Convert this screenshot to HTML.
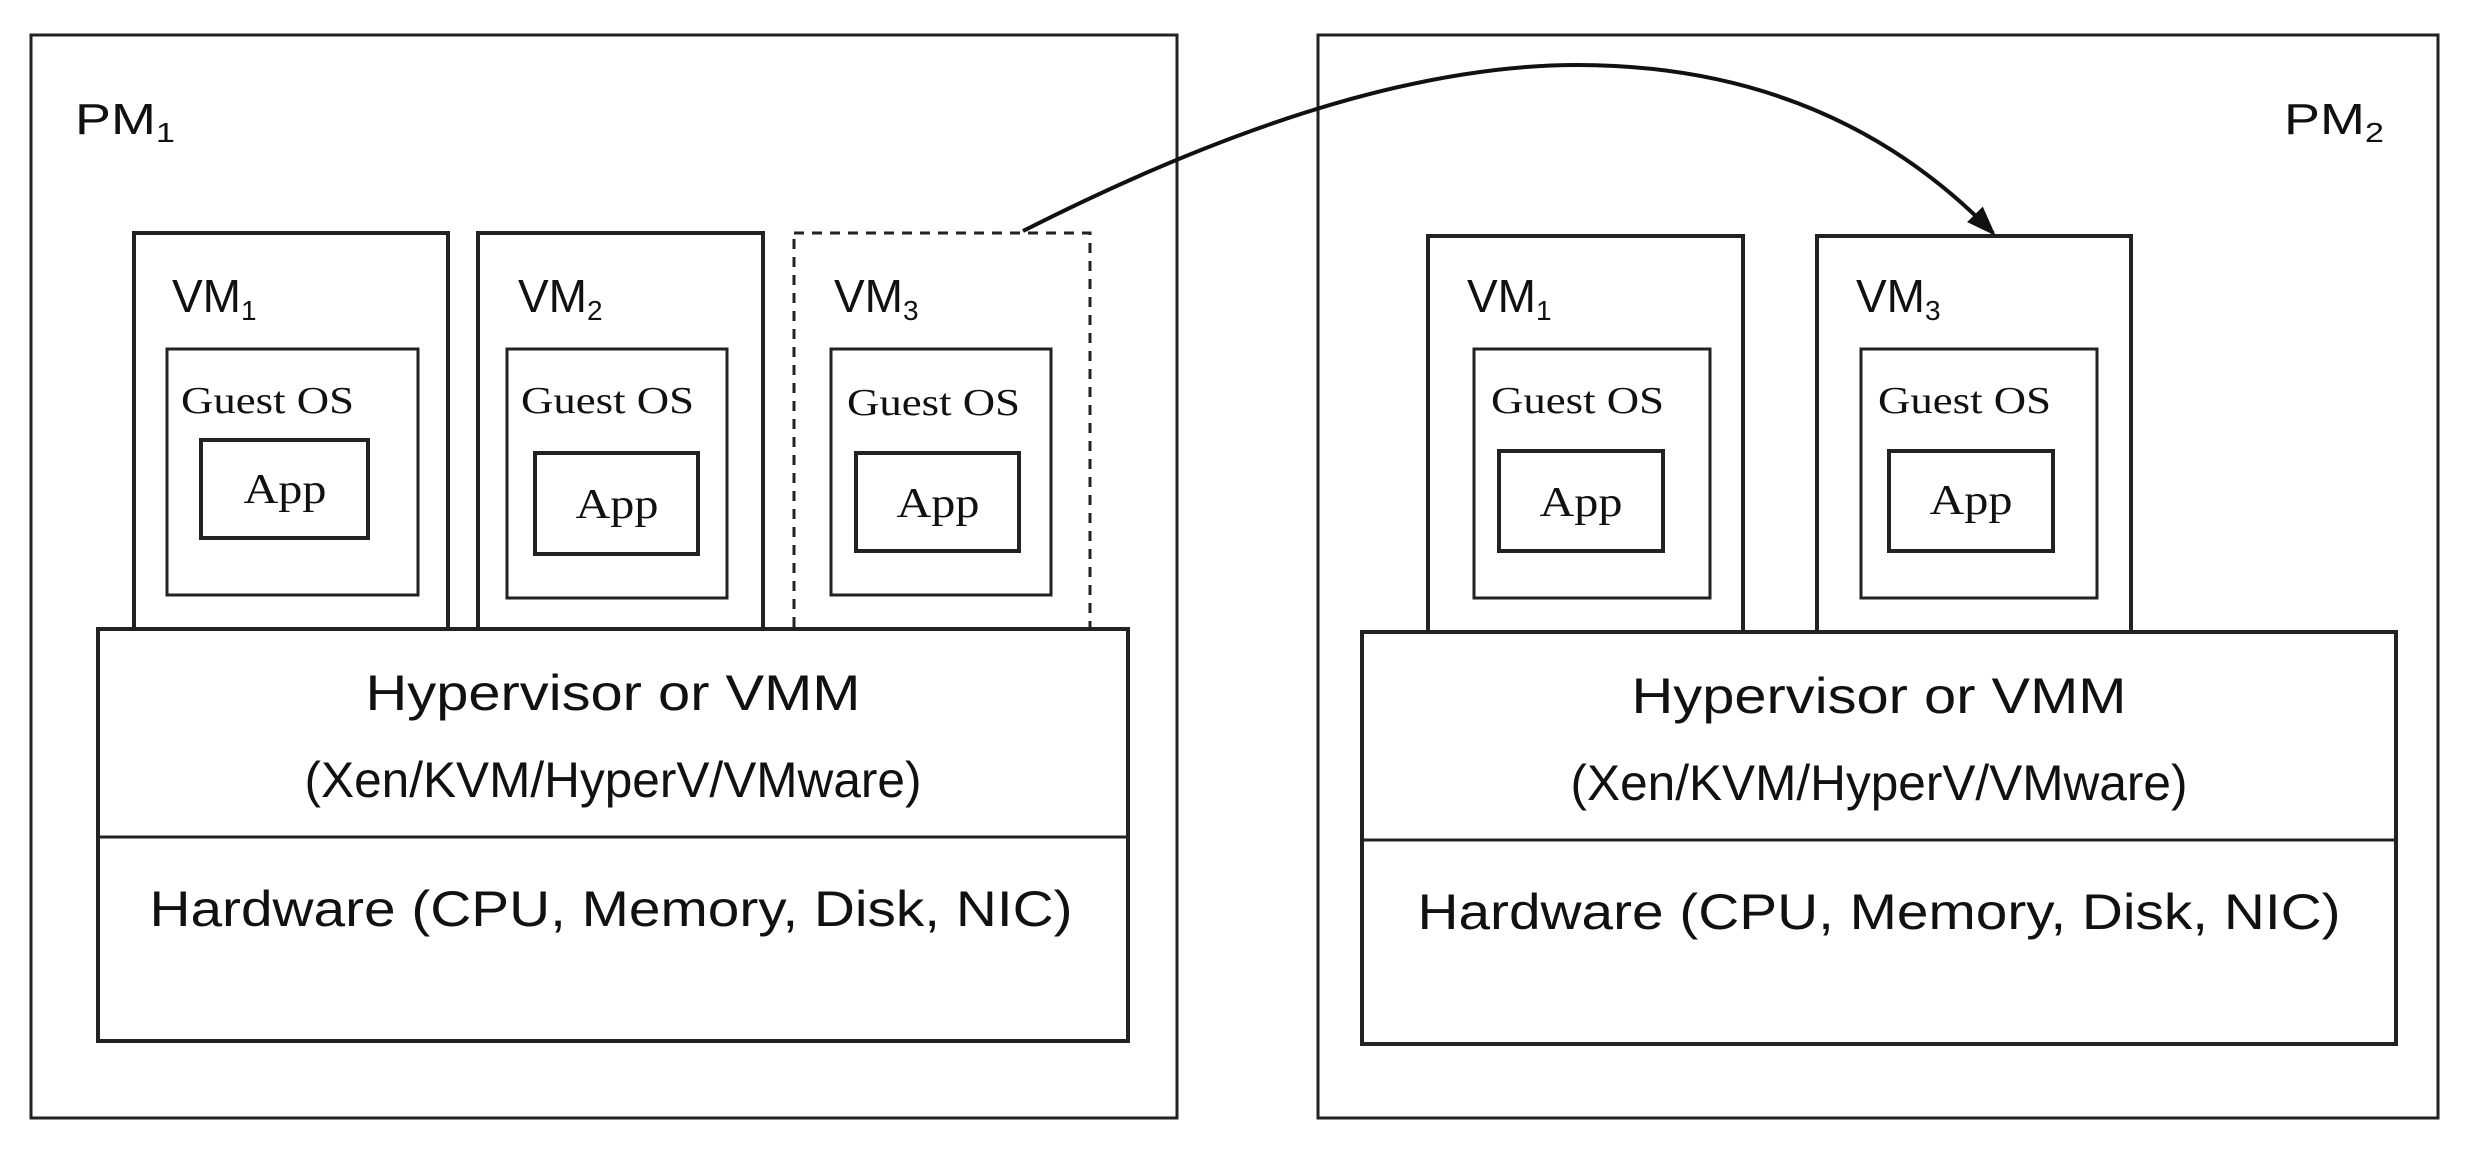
<!DOCTYPE html>
<html><head><meta charset="utf-8"><style>html,body{margin:0;padding:0;background:#fff}svg{display:block}</style></head>
<body>
<svg width="2467" height="1156" viewBox="0 0 2467 1156" xmlns="http://www.w3.org/2000/svg">
<defs><marker id="ah" markerWidth="30" markerHeight="30" refX="26" refY="11" orient="auto" markerUnits="userSpaceOnUse" viewBox="0 0 30 22"><path d="M0,0 L30,11 L0,22 z" fill="#111"/></marker></defs>
<g fill="none" stroke="#222" stroke-width="3">
<rect x="31" y="35" width="1146" height="1083"/>
<rect x="1318" y="35" width="1120" height="1083"/>
<rect x="134" y="233" width="314" height="396" stroke-width="4"/>
<rect x="478" y="233" width="285" height="396" stroke-width="4"/>
<rect x="794" y="233" width="296" height="396" stroke-dasharray="10,8"/>
<rect x="167" y="349" width="251" height="246"/>
<rect x="507" y="349" width="220" height="249"/>
<rect x="831" y="349" width="220" height="246"/>
<rect x="201" y="440" width="167" height="98" stroke-width="4"/>
<rect x="535" y="453" width="163" height="101" stroke-width="4"/>
<rect x="856" y="453" width="163" height="98" stroke-width="4"/>
<rect x="98" y="629" width="1030" height="412" stroke-width="4" fill="#fff"/>
<line x1="98" y1="837" x2="1128" y2="837"/>
<rect x="1428" y="236" width="315" height="396" stroke-width="4"/>
<rect x="1817" y="236" width="314" height="396" stroke-width="4"/>
<rect x="1474" y="349" width="236" height="249"/>
<rect x="1861" y="349" width="236" height="249"/>
<rect x="1499" y="451" width="164" height="100" stroke-width="4"/>
<rect x="1889" y="451" width="164" height="100" stroke-width="4"/>
<rect x="1362" y="632" width="1034" height="412" stroke-width="4" fill="#fff"/>
<line x1="1362" y1="840" x2="2396" y2="840"/>
<path d="M1023,231 Q1350,65 1577,65 Q1830,65 1993,233" stroke="#111" stroke-width="4" marker-end="url(#ah)"/>
</g>
<g font-family="Liberation Sans, sans-serif" fill="#111">
<text x="75" y="134" font-size="44" textLength="100" lengthAdjust="spacingAndGlyphs">PM<tspan font-size="28" dy="8">1</tspan></text>
<text x="2284" y="134" font-size="44" textLength="100" lengthAdjust="spacingAndGlyphs">PM<tspan font-size="28" dy="8">2</tspan></text>
<text x="172" y="312" font-size="46">VM<tspan font-size="28" dy="8">1</tspan></text>
<text x="518" y="312" font-size="46">VM<tspan font-size="28" dy="8">2</tspan></text>
<text x="834" y="312" font-size="46">VM<tspan font-size="28" dy="8">3</tspan></text>
<text x="1467" y="312" font-size="46">VM<tspan font-size="28" dy="8">1</tspan></text>
<text x="1856" y="312" font-size="46">VM<tspan font-size="28" dy="8">3</tspan></text>
<g font-size="50" text-anchor="middle">
<text x="613" y="710" textLength="495" lengthAdjust="spacingAndGlyphs">Hypervisor or VMM</text>
<text x="613" y="797" textLength="617" lengthAdjust="spacingAndGlyphs">(Xen/KVM/HyperV/VMware)</text>
<text x="611" y="926" textLength="923" lengthAdjust="spacingAndGlyphs">Hardware (CPU, Memory, Disk, NIC)</text>
<text x="1879" y="713" textLength="495" lengthAdjust="spacingAndGlyphs">Hypervisor or VMM</text>
<text x="1879" y="800" textLength="617" lengthAdjust="spacingAndGlyphs">(Xen/KVM/HyperV/VMware)</text>
<text x="1879" y="929" textLength="923" lengthAdjust="spacingAndGlyphs">Hardware (CPU, Memory, Disk, NIC)</text>
</g>
</g>
<g font-family="Liberation Serif, serif" fill="#111" font-size="38">
<text x="181" y="413" textLength="173" lengthAdjust="spacingAndGlyphs">Guest OS</text>
<text x="521" y="413" textLength="173" lengthAdjust="spacingAndGlyphs">Guest OS</text>
<text x="847" y="415" textLength="173" lengthAdjust="spacingAndGlyphs">Guest OS</text>
<text x="1491" y="413" textLength="173" lengthAdjust="spacingAndGlyphs">Guest OS</text>
<text x="1878" y="413" textLength="173" lengthAdjust="spacingAndGlyphs">Guest OS</text>
<g text-anchor="middle" font-size="42">
<text x="285" y="503" textLength="83" lengthAdjust="spacingAndGlyphs">App</text>
<text x="617" y="518" textLength="83" lengthAdjust="spacingAndGlyphs">App</text>
<text x="938" y="517" textLength="83" lengthAdjust="spacingAndGlyphs">App</text>
<text x="1581" y="516" textLength="83" lengthAdjust="spacingAndGlyphs">App</text>
<text x="1971" y="514" textLength="83" lengthAdjust="spacingAndGlyphs">App</text>
</g>
</g>
</svg>
</body></html>
